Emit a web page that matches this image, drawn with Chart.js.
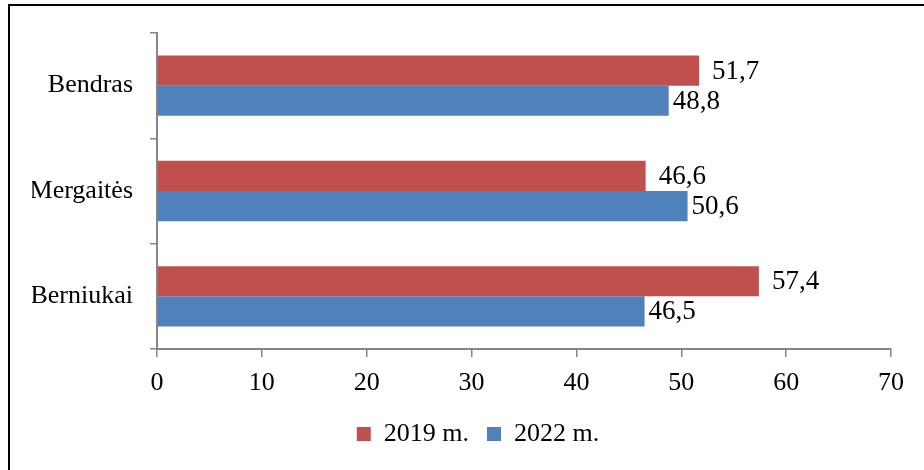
<!DOCTYPE html>
<html>
<head>
<meta charset="utf-8">
<script src="https://cdn.jsdelivr.net/npm/chart.js@4"></script>
<style>
  html, body { margin: 0; padding: 0; background: #fff; overflow: hidden; }
  #wrap { position: absolute; left: 8px; top: 4px; width: 914px; height: 464px;
          border-left: 2px solid #000; border-top: 2px solid #000; }
  #c { display: block; }
</style>
</head>
<body>
<div id="wrap"><canvas id="c"></canvas></div>
<script>
const categories = ['Bendras', 'Mergaitės', 'Berniukai'];
const seriesNames = ['2019 m.', '2022 m.'];
const values2019 = [51.7, 46.6, 57.4];
const values2022 = [48.8, 50.6, 46.5];
const xTicks = [0, 10, 20, 30, 40, 50, 60, 70];

const FONT = "'Liberation Serif', 'Times New Roman', serif";
const AXIS = '#868686';

const labelPlugin = {
  id: 'barLabels',
  afterDatasetsDraw(chart) {
    const ctx = chart.ctx;
    ctx.save();
    ctx.font = '27px ' + FONT;
    ctx.fillStyle = '#000';
    ctx.textBaseline = 'middle';
    ctx.textAlign = 'left';
    chart.data.datasets.forEach((ds, di) => {
      const meta = chart.getDatasetMeta(di);
      const off = ds.labelOffset || 6;
      meta.data.forEach((bar, i) => {
        const txt = ds.data[i].toFixed(1).replace('.', ',');
        ctx.fillText(txt, bar.x + off, bar.y + 1);
      });
    });
    ctx.restore();
  }
};

new Chart(document.getElementById('c'), {
  type: 'bar',
  data: {
    labels: categories,
    datasets: [
      { label: seriesNames[0], data: values2019, backgroundColor: '#C0504D', labelOffset: 13,
        categoryPercentage: 0.572, barPercentage: 1.0 },
      { label: seriesNames[1], data: values2022, backgroundColor: '#4F81BD', labelOffset: 4,
        categoryPercentage: 0.572, barPercentage: 1.0 }
    ]
  },
  options: {
    indexAxis: 'y',
    responsive: true,
    maintainAspectRatio: false,
    animation: false,
    layout: { padding: { top: 27, right: 0, bottom: 13, left: 22 } },
    plugins: {
      legend: {
        position: 'bottom',
        labels: {
          font: { family: FONT, size: 26 },
          color: '#000',
          boxWidth: 14, boxHeight: 14,
          padding: 18
        }
      },
      tooltip: { enabled: false }
    },
    scales: {
      x: {
        min: 0, max: 70,
        afterBuildTicks: (s) => { s.ticks = xTicks.map(v => ({ value: v })); },
        afterFit: (s) => { s.height = 54; s.paddingRight = 33; },
        ticks: { font: { family: FONT, size: 26 }, color: '#000', padding: 11,
                 callback: (v) => String(v) },
        grid: { drawOnChartArea: false, drawTicks: true, tickLength: 8, color: AXIS, lineWidth: 1.5 },
        border: { color: AXIS, width: 2 }
      },
      y: {
        afterFit: (s) => { s.width = 125; s.paddingTop = 0; s.paddingBottom = 0; },
        ticks: { font: { family: FONT, size: 26 }, color: '#000', padding: 17 },
        grid: { offset: true, drawOnChartArea: false, drawTicks: true, tickLength: 7, color: AXIS, lineWidth: 1.5 },
        border: { color: AXIS, width: 2 }
      }
    }
  },
  plugins: [labelPlugin]
});
</script>
</body>
</html>
